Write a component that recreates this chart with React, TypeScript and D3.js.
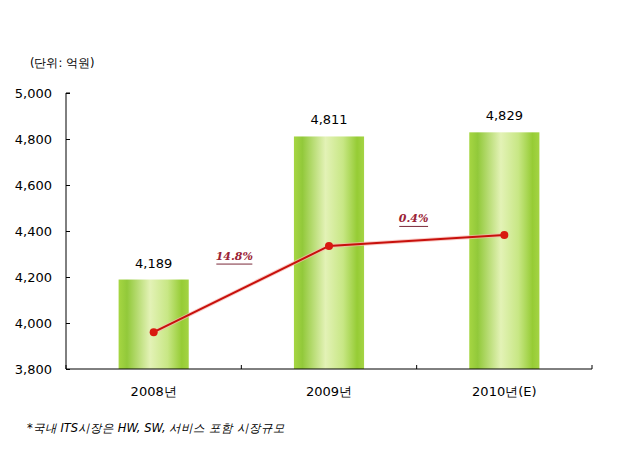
import { useEffect, useRef } from "react";
import * as d3 from "d3";

const years = ["2008년", "2009년", "2010년(E)"];
const marketSize = [4189, 4811, 4829];
const trendLine = [3960, 4335, 4383];
const growthLabels = ["14.8%", "0.4%"];
const yTicks = [3800, 4000, 4200, 4400, 4600, 4800, 5000];

const App = () => {
  const ref = useRef<SVGSVGElement>(null);

  useEffect(() => {
    const width = 627;
    const height = 460;
    const svg = d3.select(ref.current).attr("width", width).attr("height", height);
    svg.selectAll("*").remove();

    const font = "'DejaVu Sans', sans-serif";

    // 막대 그라데이션
    const defs = svg.append("defs");
    const grad = defs
      .append("linearGradient")
      .attr("id", "barGrad")
      .attr("x1", "0%")
      .attr("x2", "100%");
    [
      ["0%", "#a6d642"],
      ["12%", "#92c93a"],
      ["45%", "#e3f2b6"],
      ["70%", "#c8e785"],
      ["90%", "#96cc35"],
      ["100%", "#a4d444"],
    ].forEach(([o, c]) => grad.append("stop").attr("offset", o).attr("stop-color", c));

    const x = d3.scaleBand().domain(years).range([66, 592]).paddingInner(0.6).paddingOuter(0.3);
    const y = d3.scaleLinear().domain([3800, 5000]).range([369, 93]);

    // 단위
    svg
      .append("text")
      .attr("x", 30)
      .attr("y", 67)
      .attr("font-family", font)
      .attr("font-size", 11.5)
      .text("(단위:  억원)");

    // y축
    const yAxis = svg.append("g").attr("transform", "translate(66,0)");
    yAxis
      .call(d3.axisRight(y).tickValues(yTicks).tickSize(4).tickFormat(() => ""))
      .call((g) => g.select(".domain").attr("d", `M4,93H0V369`).attr("stroke", "#000"));
    yAxis
      .selectAll("text.lbl")
      .data(yTicks)
      .join("text")
      .attr("class", "lbl")
      .attr("x", -14)
      .attr("y", (d) => y(d) + 5)
      .attr("text-anchor", "end")
      .attr("fill", "#000")
      .attr("font-family", font)
      .attr("font-size", 13)
      .text((d) => d3.format(",")(d));

    // 막대
    svg
      .append("g")
      .selectAll("rect")
      .data(marketSize)
      .join("rect")
      .attr("x", (_, i) => x(years[i])!)
      .attr("y", (d) => y(d))
      .attr("width", x.bandwidth())
      .attr("height", (d) => y(3800) - y(d))
      .attr("fill", "url(#barGrad)");

    svg
      .append("g")
      .selectAll("text")
      .data(marketSize)
      .join("text")
      .attr("x", (_, i) => x(years[i])! + x.bandwidth() / 2)
      .attr("y", (d) => y(d) - 12)
      .attr("text-anchor", "middle")
      .attr("font-family", font)
      .attr("font-size", 13)
      .text((d) => d3.format(",")(d));

    // x축
    const step = (592 - 66) / years.length;
    const xAxis = svg.append("g");
    xAxis.append("line").attr("x1", 66).attr("x2", 592).attr("y1", 369).attr("y2", 369).attr("stroke", "#000");
    xAxis
      .selectAll("line.tick")
      .data(d3.range(years.length + 1))
      .join("line")
      .attr("class", "tick")
      .attr("x1", (i) => 66 + i * step)
      .attr("x2", (i) => 66 + i * step)
      .attr("y1", 365)
      .attr("y2", 369)
      .attr("stroke", "#000");
    xAxis
      .selectAll("text")
      .data(years)
      .join("text")
      .attr("x", (d) => x(d)! + x.bandwidth() / 2)
      .attr("y", 396)
      .attr("text-anchor", "middle")
      .attr("font-family", font)
      .attr("font-size", 13)
      .text((d) => d);

    // 추세선
    const cx = (i: number) => x(years[i])! + x.bandwidth() / 2;
    const line = d3
      .line<number>()
      .x((_, i) => cx(i))
      .y((d) => y(d));
    svg
      .append("path")
      .datum(trendLine)
      .attr("d", line)
      .attr("fill", "none")
      .attr("stroke", "#f7b8b0")
      .attr("stroke-width", 4)
      .attr("opacity", 0.7);
    svg
      .append("path")
      .datum(trendLine)
      .attr("d", line)
      .attr("fill", "none")
      .attr("stroke", "#c8100c")
      .attr("stroke-width", 2);
    svg
      .append("g")
      .selectAll("circle")
      .data(trendLine)
      .join("circle")
      .attr("cx", (_, i) => cx(i))
      .attr("cy", (d) => y(d))
      .attr("r", 4)
      .attr("fill", "#d81a10");

    // 증가율
    const gl = svg
      .append("g")
      .selectAll("g")
      .data(growthLabels)
      .join("g")
      .attr("transform", (_, i) => {
        const mx = 66 + (i + 1) * step - 7 + i * 4;
        const my = (y(trendLine[i]) + y(trendLine[i + 1])) / 2 - (i === 0 ? 29 : 18);
        return `translate(${mx},${my})`;
      });
    gl.append("text")
      .attr("text-anchor", "middle")
      .attr("font-family", "'DejaVu Serif', serif")
      .attr("font-style", "italic")
      .attr("font-weight", "bold")
      .attr("font-size", 11)
      .attr("fill", "#9b2335")
      .text((d) => d);
    gl.append("line")
      .attr("x1", (d) => -d.length * 3.6)
      .attr("x2", (d) => d.length * 3.6)
      .attr("y1", 4)
      .attr("y2", 4)
      .attr("stroke", "#7a2a3a")
      .attr("stroke-width", 1);

    // 주석
    svg
      .append("text")
      .attr("x", 27)
      .attr("y", 432)
      .attr("font-family", font)
      .attr("font-style", "italic")
      .attr("font-size", 11.5)
      .text("*국내 ITS시장은 HW, SW, 서비스 포함 시장규모");
  }, []);

  return <svg ref={ref} style={{ position: "absolute", left: 0, top: 0 }} />;
};

export default App;
